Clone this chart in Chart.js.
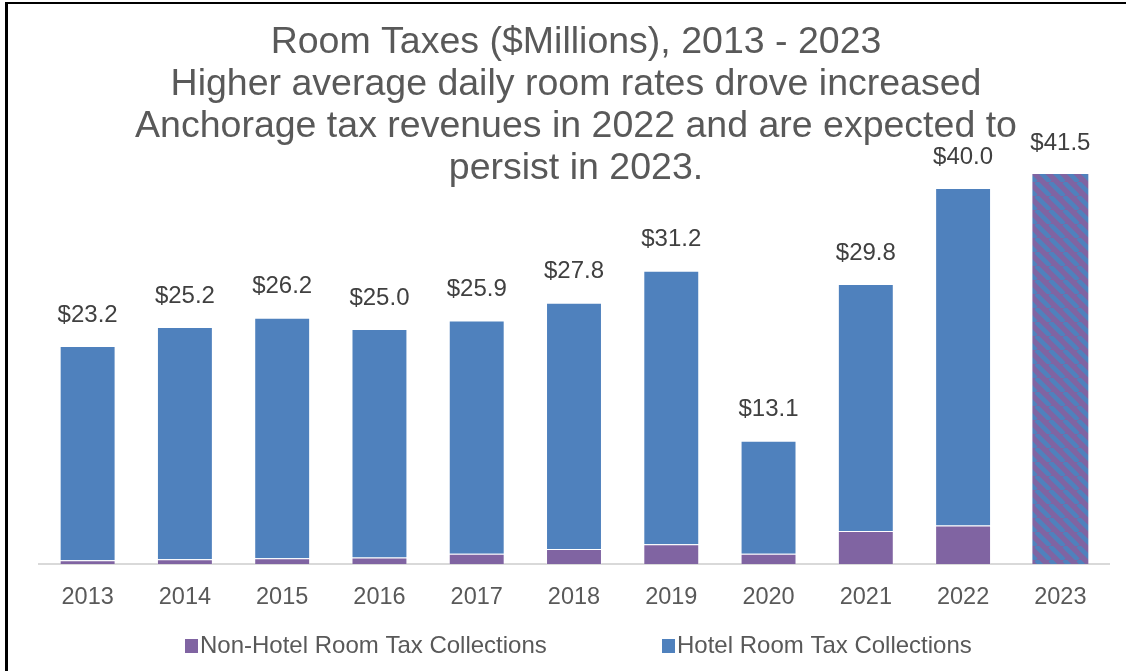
<!DOCTYPE html>
<html>
<head>
<meta charset="utf-8">
<script src="https://cdn.jsdelivr.net/npm/chart.js@4.4.1/dist/chart.umd.min.js"></script>
<style>
  html, body { margin: 0; padding: 0; background: #ffffff; }
  #wrap { position: relative; width: 1126px; height: 671px; overflow: hidden; }
  #frame { position: absolute; left: 5px; top: 2px; width: 2000px; height: 2000px;
           border-left: 3px solid #000; border-top: 2px solid #000; pointer-events: none; }
  canvas { position: absolute; left: 0; top: 0; }
</style>
</head>
<body>
<div id="wrap">
  <canvas id="c" width="1126" height="671"></canvas>
  <div id="frame"></div>
</div>
<script>
// ---- data ----
const categories = ['2013','2014','2015','2016','2017','2018','2019','2020','2021','2022','2023'];
const nonHotel   = [0.4, 0.5, 0.6, 0.7, 1.1, 1.6, 2.1, 1.1, 3.5, 4.1, null];
const hotel      = [22.8, 24.7, 25.6, 24.3, 24.8, 26.2, 29.1, 12.0, 26.3, 35.9, null];
const forecast   = [null, null, null, null, null, null, null, null, null, null, 41.5];
const totals     = [23.2, 25.2, 26.2, 25.0, 25.9, 27.8, 31.2, 13.1, 29.8, 40.0, 41.5];
const totalLabels = ['$23.2','$25.2','$26.2','$25.0','$25.9','$27.8','$31.2','$13.1','$29.8','$40.0','$41.5'];
const titleLines = [
  'Room Taxes ($Millions), 2013 - 2023',
  'Higher average daily room rates drove increased',
  'Anchorage tax revenues in 2022 and are expected to',
  'persist in 2023.'
];
const seriesNames = ['Non-Hotel Room Tax Collections', 'Hotel Room Tax Collections'];

const PURPLE = '#8064A2';
const BLUE = '#4F81BD';
const FONT = '"Liberation Sans", Arial, sans-serif';

function makePattern() {
  const s = 14;
  const p = document.createElement('canvas');
  p.width = s; p.height = s;
  const g = p.getContext('2d');
  g.fillStyle = PURPLE;
  g.fillRect(0, 0, s, s);
  g.strokeStyle = BLUE;
  g.lineWidth = 4.5;
  for (const o of [-s, 0, s]) {
    g.beginPath();
    g.moveTo(o, 0);
    g.lineTo(o + s, s);
    g.stroke();
  }
  return document.getElementById('c').getContext('2d').createPattern(p, 'repeat');
}

const titlePlugin = {
  id: 'overlayTitle',
  afterDraw(chart) {
    const ctx = chart.ctx;
    ctx.save();
    ctx.fillStyle = '#595959';
    ctx.font = '37.5px ' + FONT;
    ctx.textAlign = 'center';
    ctx.textBaseline = 'middle';
    titleLines.forEach((t, i) => ctx.fillText(t, 576, 43 + i * 41.8));
    ctx.restore();
  }
};

const labelPlugin = {
  id: 'totalLabels',
  afterDatasetsDraw(chart) {
    const ctx = chart.ctx;
    const xs = chart.scales.x, ys = chart.scales.y;
    ctx.save();
    ctx.fillStyle = '#404040';
    ctx.font = '24px ' + FONT;
    ctx.textAlign = 'center';
    ctx.textBaseline = 'middle';
    totals.forEach((v, i) => {
      ctx.fillText(totalLabels[i], xs.getPixelForValue(i), ys.getPixelForValue(v) - 31);
    });
    ctx.restore();
  }
};

const legendPlugin = {
  id: 'bottomLegend',
  afterDraw(chart) {
    const ctx = chart.ctx;
    const items = [
      { text: seriesNames[0], color: PURPLE, x: 185 },
      { text: seriesNames[1], color: BLUE, x: 662 }
    ];
    ctx.save();
    ctx.font = '24px ' + FONT;
    ctx.textBaseline = 'middle';
    ctx.textAlign = 'left';
    items.forEach(it => {
      ctx.fillStyle = it.color;
      ctx.fillRect(it.x, 639, 13, 14);
      ctx.fillStyle = '#595959';
      ctx.fillText(it.text, it.x + 15, 646);
    });
    ctx.restore();
  }
};

const pattern = makePattern();

new Chart(document.getElementById('c'), {
  type: 'bar',
  data: {
    labels: categories,
    datasets: [
      { label: seriesNames[0], data: nonHotel, backgroundColor: PURPLE,
        borderColor: 'rgba(255,255,255,0.25)', borderWidth: 1 },
      { label: seriesNames[1], data: hotel, backgroundColor: BLUE,
        borderColor: 'rgba(255,255,255,0.25)', borderWidth: 1 },
      { label: '2023', data: forecast, backgroundColor: pattern, borderWidth: 0 }
    ]
  },
  options: {
    responsive: false,
    animation: false,
    events: [],
    datasets: { bar: { barPercentage: 0.575, categoryPercentage: 1 } },
    layout: { padding: { top: 141, left: 39, right: 17, bottom: 0 } },
    plugins: { legend: { display: false }, title: { display: false }, tooltip: { enabled: false } },
    scales: {
      x: {
        stacked: true,
        grid: { display: false, drawTicks: false },
        border: { display: true, color: '#d9d9d9', width: 2 },
        ticks: { color: '#595959', font: { family: FONT, size: 23.5 }, padding: 19 },
        afterFit(s) { s.height = 107; }
      },
      y: {
        stacked: true, display: false, min: 0, max: 45
      }
    }
  },
  plugins: [titlePlugin, labelPlugin, legendPlugin]
});
</script>
</body>
</html>
